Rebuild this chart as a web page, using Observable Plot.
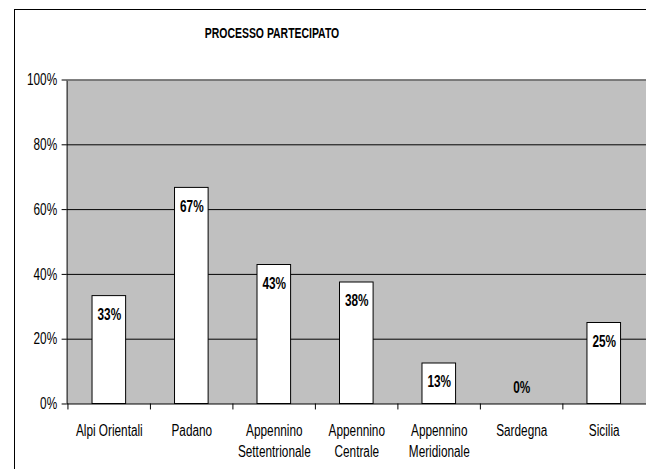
<!DOCTYPE html>
<html>
<head>
<meta charset="utf-8">
<script src="https://cdn.jsdelivr.net/npm/d3@7"></script>
<script src="https://cdn.jsdelivr.net/npm/@observablehq/plot@0.6"></script>
<style>
  html, body { margin: 0; padding: 0; background: #fff; }
  #wrap { position: relative; width: 646px; height: 469px; overflow: hidden; background: #fff;
          font-family: "Liberation Sans", Arial, sans-serif; }
  #frame { position: absolute; left: 14px; top: 9px; right: -5px; bottom: -5px;
           border-left: 1px solid #000; border-top: 1px solid #000; }
  #title { position: absolute; left: 0; width: 544px; top: 26px; text-align: center;
           font-weight: bold; font-size: 14.5px; line-height: 15px; color: #000;
           transform: scaleX(0.72); transform-origin: 272px 50%; white-space: nowrap; }
  #chart { position: absolute; left: 0; top: 0; }
</style>
</head>
<body>
<div id="wrap">
  <div id="frame"></div>
  <div id="title">PROCESSO PARTECIPATO</div>
  <div id="chart"></div>
</div>
<script>
const categories = ["Alpi Orientali", "Padano", "Appennino Settentrionale", "Appennino Centrale", "Appennino Meridionale", "Sardegna", "Sicilia"];
const tickLabels = ["Alpi Orientali", "Padano", "Appennino\nSettentrionale", "Appennino\nCentrale", "Appennino\nMeridionale", "Sardegna", "Sicilia"];
const values = [0.333, 0.667, 0.429, 0.375, 0.125, 0, 0.25];
const valueLabels = ["33%", "67%", "43%", "38%", "13%", "0%", "25%"];
const yTicks = [0, 0.2, 0.4, 0.6, 0.8, 1];
const gridTicks = [0.2, 0.4, 0.6, 0.8];

const data = categories.map((c, i) => ({cat: c, value: values[i], label: valueLabels[i]}));
const tickMap = new Map(categories.map((c, i) => [c, tickLabels[i]]));

const W = 650, H = 469, mL = 67, mR = 0, mT = 80, mB = 63;
const step = (W - mL - mR) / categories.length;
const FS = 16.5;      // glyph height of the reference text
const SQUEEZE = 0.72; // the reference text is horizontally condensed

const chart = Plot.plot({
  width: W,
  height: H,
  marginLeft: mL,
  marginRight: mR,
  marginTop: mT,
  marginBottom: mB,
  style: {fontFamily: '"Liberation Sans", Arial, sans-serif', fontSize: FS + "px", color: "#000", background: "transparent", overflow: "visible"},
  x: {domain: categories, padding: 0},
  y: {domain: [0, 1]},
  marks: [
    Plot.frame({fill: "#c0c0c0", stroke: "none"}),
    Plot.ruleY(gridTicks, {stroke: "#000", strokeWidth: 1}),
    Plot.barY(data, {x: "cat", y: "value", fill: "#fff", stroke: "#000", strokeWidth: 1, insetLeft: 24.6, insetRight: 24.6}),
    Plot.text(data.filter(d => d.value > 0), {x: "cat", y: "value", text: "label", fontWeight: "bold", fontSize: FS, lineAnchor: "middle", dy: 18.5, fill: "#000"}),
    Plot.text(data.filter(d => d.value === 0), {x: "cat", y: "value", text: "label", fontWeight: "bold", fontSize: FS, lineAnchor: "middle", dy: -16, fill: "#000"}),
    Plot.frame({stroke: "#000", strokeWidth: 1}),
    Plot.ruleY([1], {stroke: "#808080", strokeWidth: 1.5}),
    Plot.ruleX(categories, {x: d => d, y1: 0, y2: 0, dx: -step / 2, insetBottom: -6, stroke: "#000"}),
    Plot.axisY({ticks: yTicks, tickFormat: d => Math.round(d * 100) + "%", tickSize: 5, tickPadding: 5, label: null, fontSize: FS}),
    Plot.axisX({tickSize: 0, tickPadding: 17.3, tickFormat: d => tickMap.get(d), lineHeight: 1.27, label: null, fontSize: FS})
  ]
});
document.getElementById("chart").appendChild(chart);

// condense glyphs horizontally (keeps anchors) to mimic the narrow reference lettering
chart.querySelectorAll("text").forEach(t => {
  const spans = t.querySelectorAll("tspan");
  const els = spans.length ? Array.from(spans) : [t];
  els.forEach(el => {
    const len = el.getComputedTextLength();
    if (len > 0) {
      el.setAttribute("textLength", (len * SQUEEZE).toFixed(2));
      el.setAttribute("lengthAdjust", "spacingAndGlyphs");
    }
  });
});
</script>
</body>
</html>
